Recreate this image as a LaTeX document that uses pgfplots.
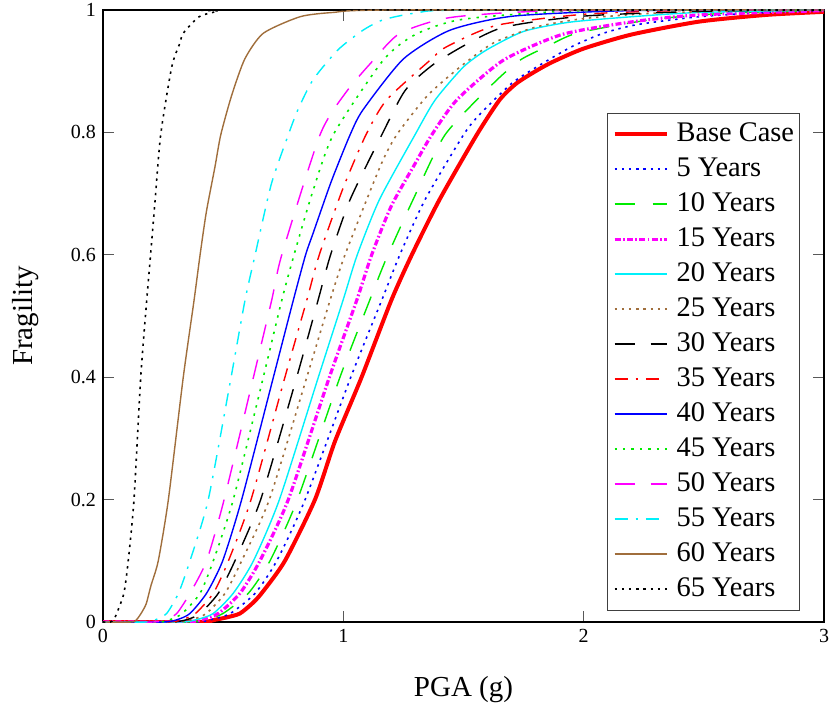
\documentclass[border=0pt]{standalone}
\usepackage{fontspec}
\setmainfont{Liberation Serif}
\usepackage{pgfplots}
\pgfplotsset{compat=1.18}
\definecolor{brn}{RGB}{160,110,60}
\definecolor{grn}{RGB}{0,235,0}
\definecolor{cyn}{RGB}{0,240,250}
\definecolor{mag}{RGB}{255,0,255}
\pgfplotsset{thinleg/.style={legend image post style={line width=0.95pt}}}
\begin{document}
\begin{tikzpicture}
\useasboundingbox (-51.5pt,-48.5pt) rectangle (365.5pt,311pt);
\begin{axis}[
  at={(0,0)}, anchor=south west,
  scale only axis, width=360.5pt, height=306pt,
  xmin=0, xmax=3, ymin=0, ymax=1,
  xtick={0,1,2,3}, ytick={0,0.2,0.4,0.6,0.8,1},
  tick align=inside, major tick length=5.5pt,
  tick style={color=black!65, line width=0.6pt},
  axis line style={line width=0.7pt},
  /pgf/number format/assume math mode=true,
  ticklabel style={font=\fontsize{10}{12}\selectfont},
  xlabel={PGA (g)}, ylabel={Fragility},
  label style={font=\fontsize{14.5}{16}\selectfont},
  xlabel style={at={(axis description cs:0.5,-0.111)}, anchor=center},
  ylabel style={at={(axis description cs:-0.108,0.5)}, anchor=center},
  legend cell align=left,
  legend style={at={(axis description cs:0.699,0.832)}, anchor=north west,
    draw=black!75, line width=0.6pt, fill=white,
    font=\fontsize{14.2}{16}\selectfont,
    nodes={inner sep=0pt, text height=10pt, text depth=3pt},
    row sep=4.5pt, column sep=4pt, inner xsep=2.5pt, inner ysep=4pt},
  legend image code/.code={\draw[#1] (0pt,0pt) -- (26pt,0pt);},
  every axis plot/.append style={smooth, tension=0.4},
]
\addplot[red, line width=2pt] coordinates {
(0,0) (0.40,0) (0.47,0.004) (0.52,0.008) (0.57,0.014) (0.62,0.030) (0.66,0.047) (0.757,0.10) (0.882,0.20) (0.965,0.295) (1.076,0.40) (1.20,0.526) (1.285,0.60) (1.40,0.69) (1.555,0.796) (1.65,0.853) (1.72,0.88) (1.80,0.90) (1.87,0.915) (2.0,0.937) (2.2,0.96) (2.48,0.981) (2.76,0.992) (3.0,0.997)};
\addlegendentry{Base Case}
\addplot[blue, line width=0.8pt, dash pattern=on 1.2pt off 2.4pt, thinleg] coordinates {
(0,0) (0.38,0) (0.45,0.004) (0.53,0.014) (0.633,0.047) (0.723,0.10) (0.841,0.20) (1.031,0.40) (1.16,0.526) (1.235,0.60) (1.34,0.69) (1.50,0.796) (1.569,0.83) (1.70,0.88) (1.805,0.907) (1.95,0.94) (2.082,0.962) (2.221,0.976) (2.48,0.989) (2.8,0.997) (3.0,0.999)};
\addlegendentry{5 Years}
\addplot[grn, line width=0.7pt, dash pattern=on 10pt off 9pt, thinleg] coordinates {
(0,0) (0.36,0) (0.43,0.004) (0.50,0.014) (0.605,0.047) (0.695,0.10) (0.809,0.20) (0.986,0.40) (1.11,0.526) (1.18,0.595) (1.29,0.69) (1.423,0.796) (1.624,0.88) (1.735,0.918) (1.846,0.94) (1.971,0.962) (2.276,0.984) (2.6,0.995) (3.0,0.999)};
\addlegendentry{10 Years}
\addplot[mag, line width=1.6pt, dash pattern=on 3pt off 1.2pt on 0.8pt off 1.2pt] coordinates {
(0,0) (0.34,0) (0.41,0.004) (0.48,0.014) (0.57,0.047) (0.653,0.10) (0.771,0.20) (0.942,0.40) (1.056,0.526) (1.118,0.60) (1.20,0.68) (1.30,0.75) (1.368,0.796) (1.472,0.853) (1.666,0.918) (1.91,0.96) (2.207,0.981) (2.48,0.992) (3.0,0.999)};
\addlegendentry{15 Years}
\addplot[cyn, line width=0.7pt, thinleg] coordinates {
(0,0) (0.32,0) (0.39,0.004) (0.459,0.014) (0.542,0.047) (0.626,0.10) (0.734,0.20) (0.896,0.40) (0.999,0.526) (1.058,0.60) (1.15,0.69) (1.298,0.796) (1.382,0.853) (1.50,0.907) (1.597,0.935) (1.75,0.965) (1.94,0.980) (2.2,0.989) (2.48,0.996) (3.0,1.0)};
\addlegendentry{20 Years}
\addplot[brn, line width=0.8pt, dash pattern=on 1.2pt off 2.4pt, thinleg] coordinates {
(0,0) (0.30,0) (0.37,0.004) (0.43,0.014) (0.508,0.047) (0.577,0.10) (0.692,0.20) (0.848,0.40) (0.945,0.526) (1.007,0.60) (1.153,0.744) (1.222,0.796) (1.35,0.86) (1.486,0.907) (1.624,0.946) (1.80,0.972) (2.0,0.986) (2.3,0.995) (2.7,0.999) (3,1)};
\addlegendentry{25 Years}
\addplot[black, line width=0.7pt, dash pattern=on 10pt off 8pt, thinleg] coordinates {
(0,0) (0.28,0) (0.35,0.004) (0.404,0.014) (0.48,0.047) (0.549,0.10) (0.656,0.20) (0.806,0.40) (0.895,0.526) (0.947,0.60) (1.028,0.69) (1.16,0.796) (1.26,0.87) (1.40,0.918) (1.652,0.97) (2.0,0.99) (2.5,0.998) (3,1)};
\addlegendentry{30 Years}
\addplot[red, line width=0.7pt, dash pattern=on 6.5pt off 4pt on 1.2pt off 4pt, thinleg] coordinates {
(0,0) (0.27,0) (0.33,0.004) (0.385,0.014) (0.459,0.047) (0.522,0.10) (0.616,0.20) (0.757,0.40) (0.848,0.526) (0.90,0.60) (1.00,0.71) (1.094,0.796) (1.18,0.853) (1.361,0.918) (1.43,0.94) (1.638,0.975) (2.0,0.993) (2.4,0.999) (3,1)};
\addlegendentry{35 Years}
\addplot[blue, line width=0.7pt, thinleg] coordinates {
(0,0) (0.25,0) (0.31,0.004) (0.362,0.014) (0.431,0.047) (0.498,0.10) (0.577,0.20) (0.709,0.40) (0.792,0.526) (0.843,0.60) (0.874,0.635) (0.95,0.72) (1.028,0.796) (1.082,0.837) (1.25,0.92) (1.444,0.967) (1.707,0.99) (2.2,0.999) (3,1)};
\addlegendentry{40 Years}
\addplot[grn, line width=0.8pt, dash pattern=on 1.2pt off 3pt, thinleg] coordinates {
(0,0) (0.23,0) (0.28,0.004) (0.33,0.014) (0.404,0.047) (0.459,0.10) (0.542,0.20) (0.667,0.40) (0.744,0.526) (0.795,0.60) (0.87,0.70) (0.958,0.796) (1.166,0.918) (1.30,0.96) (1.50,0.985) (2.0,0.999) (3,1)};
\addlegendentry{45 Years}
\addplot[mag, line width=0.7pt, dash pattern=on 10pt off 8pt, thinleg] coordinates {
(0,0) (0.21,0) (0.26,0.004) (0.307,0.014) (0.362,0.047) (0.431,0.10) (0.504,0.20) (0.626,0.40) (0.702,0.526) (0.744,0.60) (0.903,0.796) (1.01,0.865) (1.125,0.918) (1.236,0.962) (1.45,0.988) (1.9,0.999) (3,1)};
\addlegendentry{50 Years}
\addplot[cyn, line width=0.7pt, dash pattern=on 6.5pt off 4pt on 1.2pt off 4pt, thinleg] coordinates {
(0,0) (0.18,0) (0.22,0.004) (0.265,0.014) (0.314,0.047) (0.362,0.10) (0.438,0.20) (0.533,0.40) (0.591,0.526) (0.633,0.60) (0.70,0.715) (0.771,0.796) (0.811,0.837) (0.874,0.886) (0.978,0.935) (1.082,0.967) (1.166,0.984) (1.3,0.995) (1.5,1) (3,1)};
\addlegendentry{55 Years}
\addplot[brn, line width=0.7pt, thinleg] coordinates {
(0,0) (0.12,0) (0.14,0.004) (0.16,0.015) (0.18,0.03) (0.20,0.06) (0.23,0.10) (0.272,0.20) (0.334,0.40) (0.379,0.526) (0.404,0.60) (0.43,0.67) (0.466,0.744) (0.49,0.796) (0.535,0.86) (0.59,0.92) (0.667,0.962) (0.82,0.989) (0.957,0.996) (1.2,1) (3,1)};
\addlegendentry{60 Years}
\addplot[black, line width=0.8pt, dash pattern=on 1.2pt off 2.4pt, thinleg] coordinates {
(0,0) (0.03,0) (0.045,0.004) (0.057,0.014) (0.087,0.047) (0.105,0.10) (0.129,0.20) (0.157,0.40) (0.182,0.526) (0.198,0.60) (0.215,0.68) (0.24,0.796) (0.286,0.907) (0.32,0.946) (0.334,0.962) (0.40,0.989) (0.48,0.998) (0.55,1) (3,1)};
\addlegendentry{65 Years}
\end{axis}
\end{tikzpicture}
\end{document}
